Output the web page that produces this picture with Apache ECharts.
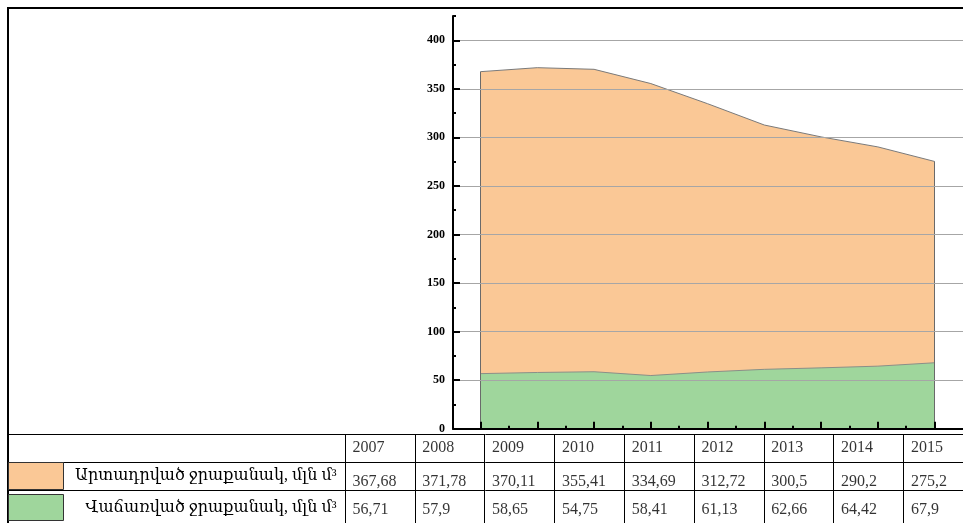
<!DOCTYPE html>
<html>
<head>
<meta charset="utf-8">
<script src="https://cdn.jsdelivr.net/npm/echarts@6/dist/echarts.min.js"></script>
<style>
  html, body { margin: 0; padding: 0; background: #fff; }
  #chart { width: 963px; height: 523px; }
</style>
</head>
<body>
<div id="chart"></div>
<script>
// Water volumes by year, million cubic metres
const years = ['2007', '2008', '2009', '2010', '2011', '2012', '2013', '2014', '2015'];
const extractedName = 'Արտադրված ջրաքանակ, մլն մ³';
const soldName = 'Վաճառված ջրաքանակ, մլն մ³';
const extracted = [367.68, 371.78, 370.11, 355.41, 334.69, 312.72, 300.5, 290.2, 275.2];
const sold = [56.71, 57.9, 58.65, 54.75, 58.41, 61.13, 62.66, 64.42, 67.9];

// Value axis ticks
const yTicks = [0, 50, 100, 150, 200, 250, 300, 350, 400];
const yMinorTicks = [25, 75, 125, 175, 225, 275, 325, 375, 425];

const SERIF = "'Liberation Serif', 'DejaVu Serif', serif";
const ORANGE = '#FAC896';
const GREEN = '#9FD69C';

const idx = years.map((_, i) => i);
const halfIdx = idx.slice(0, -1).map(i => i + 0.5);
const last = years.length - 1;
const fmt = v => String(v).replace('.', ',');

// vertical text anchors of the three table rows (row units)
const rowAnchor = [0.5, 1.72, 2.72];
const rowTexts = [years, extracted.map(fmt), sold.map(fmt)];

function edgeLines(values) {
  return [
    [{ coord: [0, 0] }, { coord: [0, values[0]] }],
    [{ coord: [last, 0] }, { coord: [last, values[last]] }]
  ];
}

const tableSeries = rowTexts.map((texts, r) => ({
  type: 'scatter',
  xAxisIndex: 2,
  yAxisIndex: 2,
  symbolSize: 1,
  silent: true,
  itemStyle: { color: 'rgba(0,0,0,0)' },
  data: idx.map(i => [i, rowAnchor[r]]),
  label: {
    show: true,
    position: 'right',
    distance: 7,
    formatter: p => texts[p.dataIndex],
    fontFamily: SERIF,
    fontSize: 16,
    color: '#000'
  }
}));

function legendBox(name, top, height) {
  return {
    orient: 'vertical',
    left: 8,
    top: top,
    padding: 0,
    itemWidth: 55,
    itemHeight: height,
    icon: 'rect',
    selectedMode: false,
    data: [name],
    itemStyle: { borderColor: '#333', borderWidth: 1 },
    formatter: n => '{t|' + n + '}',
    textStyle: {
      rich: {
        t: { width: 268, align: 'right', fontFamily: SERIF, fontSize: 16, color: '#000' }
      }
    }
  };
}

const chart = echarts.init(document.getElementById('chart'), null, { renderer: 'canvas' });

chart.setOption({
  animation: false,
  backgroundColor: '#ffffff',
  grid: [
    { left: 453, right: -3, top: 16, bottom: 94.3 },
    { left: 8, right: 0, top: 434, bottom: -1 }
  ],
  legend: [
    legendBox(extractedName, 462, 27),
    legendBox(soldName, 494, 26)
  ],
  xAxis: [
    {
      gridIndex: 0,
      type: 'value',
      min: -0.485,
      max: 8.5,
      z: 10,
      axisLine: { show: true, onZero: false, lineStyle: { color: '#000', width: 2 } },
      axisTick: { show: true, inside: true, length: 7, customValues: idx, lineStyle: { color: '#000', width: 2 } },
      axisLabel: { show: false },
      splitLine: { show: false }
    },
    {
      gridIndex: 0,
      type: 'value',
      min: -0.485,
      max: 8.5,
      position: 'bottom',
      z: 10,
      axisLine: { show: false, onZero: false },
      axisTick: { show: true, inside: true, length: 3, customValues: halfIdx, lineStyle: { color: '#000', width: 2 } },
      axisLabel: { show: false },
      splitLine: { show: false }
    },
    {
      gridIndex: 1,
      type: 'value',
      min: -4.828,
      max: 8.854,
      axisLine: { show: false, onZero: false },
      axisTick: { show: false, customValues: idx },
      axisLabel: { show: false },
      splitLine: { show: true, lineStyle: { color: '#000', width: 1 } }
    }
  ],
  yAxis: [
    {
      gridIndex: 0,
      type: 'value',
      min: 0,
      max: 425,
      interval: 50,
      z: 10,
      axisLine: { show: true, onZero: false, lineStyle: { color: '#000', width: 2 } },
      axisTick: { show: true, inside: true, length: 7, customValues: yTicks, lineStyle: { color: '#000', width: 2 } },
      axisLabel: {
        show: true,
        customValues: yTicks,
        margin: 8,
        fontFamily: SERIF,
        fontWeight: 'bold',
        fontSize: 12,
        color: '#000'
      },
      splitLine: { show: true, lineStyle: { color: '#a6a6a6', width: 1 } }
    },
    {
      gridIndex: 0,
      type: 'value',
      min: 0,
      max: 425,
      position: 'left',
      z: 10,
      axisLine: { show: false, onZero: false },
      axisTick: { show: true, inside: true, length: 3, customValues: yMinorTicks, lineStyle: { color: '#000', width: 2 } },
      axisLabel: { show: false },
      splitLine: { show: false }
    },
    {
      gridIndex: 1,
      type: 'value',
      inverse: true,
      min: 0,
      max: 3.18,
      axisLine: { show: false, onZero: false },
      axisTick: { show: false, customValues: [0, 1, 2] },
      axisLabel: { show: false },
      splitLine: { show: true, lineStyle: { color: '#000', width: 1 } }
    }
  ],
  graphic: [
    {
      type: 'polyline',
      silent: true,
      shape: { points: [[8, 523], [8, 8], [963, 8]] },
      style: { stroke: '#000', lineWidth: 2, fill: null }
    }
  ],
  series: [
    {
      name: extractedName,
      type: 'line',
      xAxisIndex: 0,
      yAxisIndex: 0,
      data: extracted.map((v, i) => [i, v]),
      showSymbol: false,
      symbol: 'none',
      itemStyle: { color: ORANGE },
      lineStyle: { color: '#7a7a7a', width: 1 },
      areaStyle: { color: ORANGE, opacity: 1 },
      z: 2,
      markLine: {
        silent: true,
        symbol: 'none',
        label: { show: false },
        lineStyle: { color: '#6a6a6a', width: 1, type: 'solid' },
        data: edgeLines(extracted)
      }
    },
    {
      name: soldName,
      type: 'line',
      xAxisIndex: 0,
      yAxisIndex: 0,
      data: sold.map((v, i) => [i, v]),
      showSymbol: false,
      symbol: 'none',
      itemStyle: { color: GREEN },
      lineStyle: { color: '#8a8f88', width: 1 },
      areaStyle: { color: GREEN, opacity: 1 },
      z: 3,
      markLine: {
        silent: true,
        symbol: 'none',
        label: { show: false },
        lineStyle: { color: '#6a6a6a', width: 1, type: 'solid' },
        data: edgeLines(sold)
      }
    }
  ].concat(tableSeries)
});
</script>
</body>
</html>
